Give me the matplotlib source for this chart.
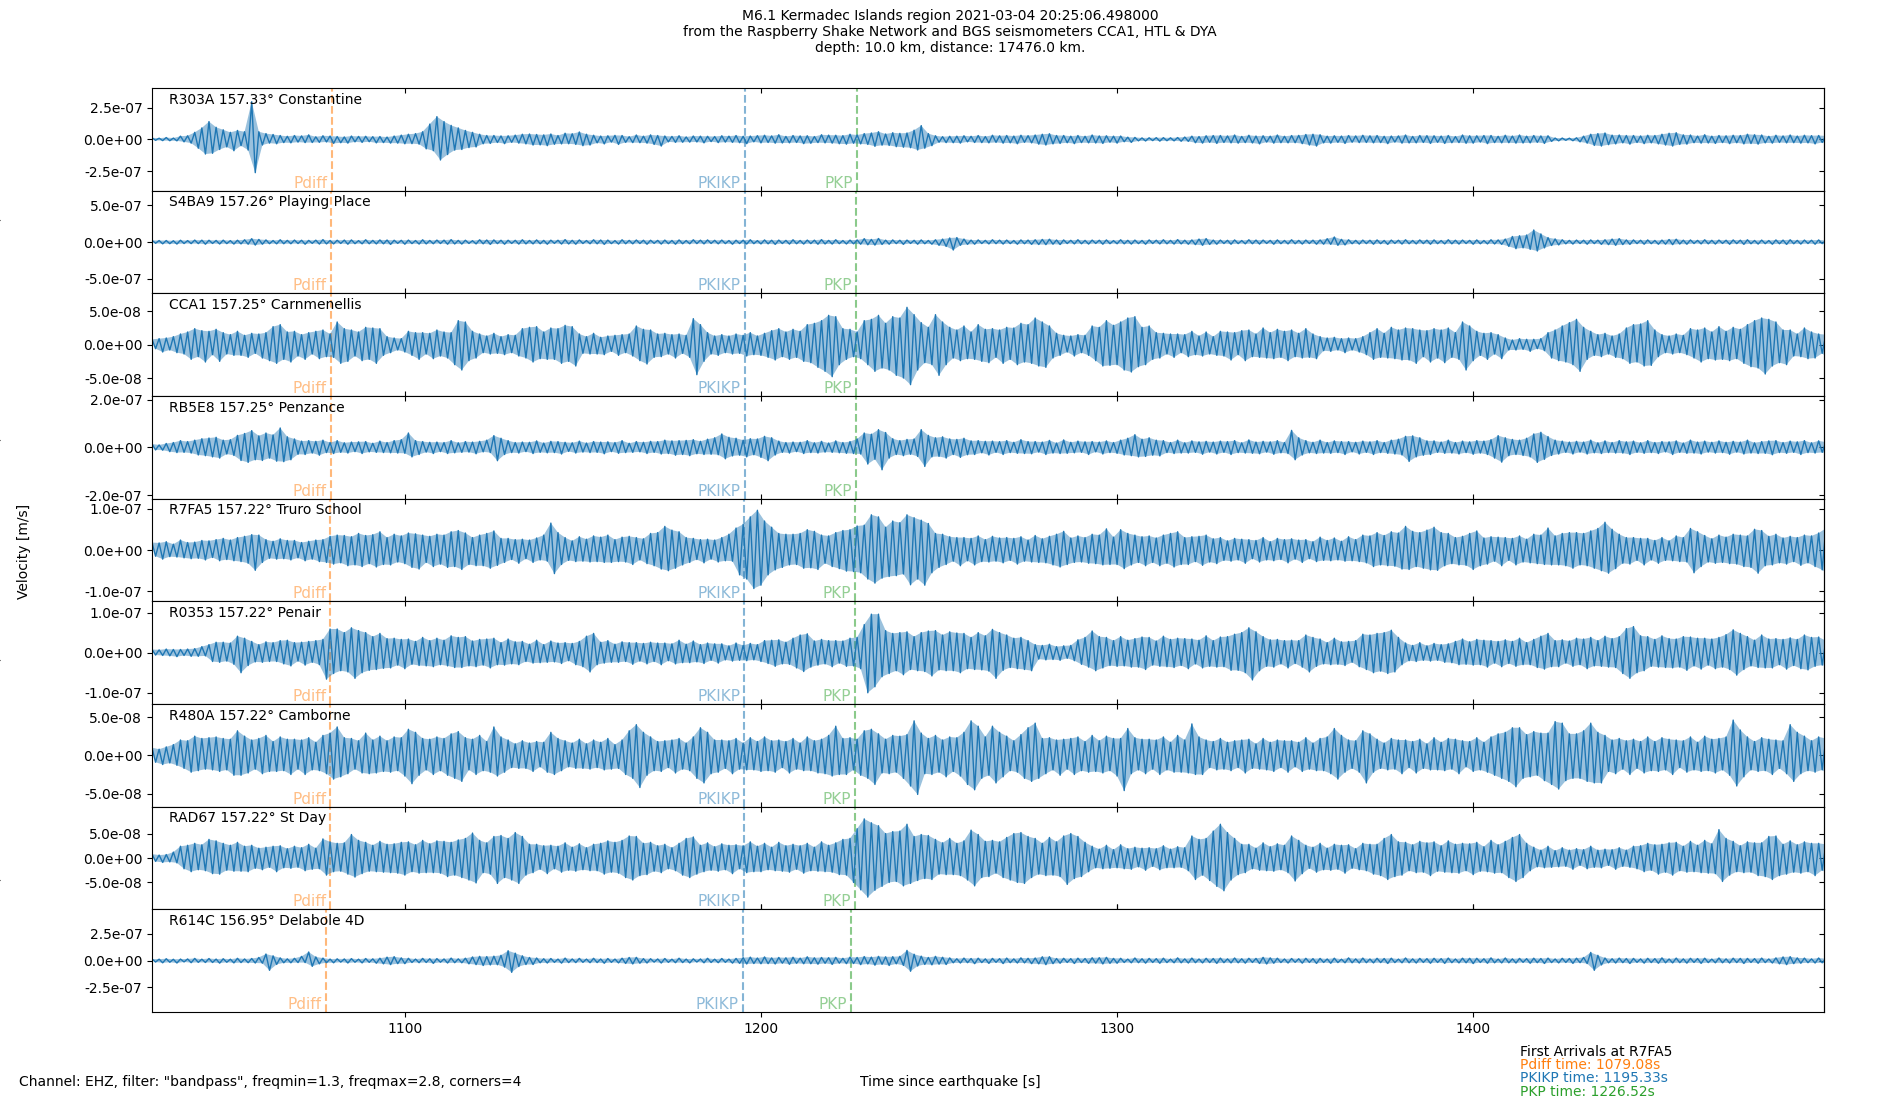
import numpy as np
import matplotlib
matplotlib.use("Agg")
import matplotlib.pyplot as plt

plt.rcParams["font.size"] = 10

stations = ["R303A", "S4BA9", "CCA1", "RB5E8", "R7FA5", "R0353", "R480A", "RAD67", "R614C"]
distances = [157.33, 157.26, 157.25, 157.25, 157.22, 157.22, 157.22, 157.22, 156.95]
places = ["Constantine", "Playing Place", "Carnmenellis", "Penzance", "Truro School",
          "Penair", "Camborne", "St Day", "Delabole 4D"]

# arrival times (s) at each station
pdiff_t = [1079.57, 1079.26, 1079.21, 1079.21, 1079.08, 1079.08, 1079.08, 1079.08, 1077.88]
pkikp_t = [1195.54, 1195.40, 1195.39, 1195.39, 1195.33, 1195.33, 1195.33, 1195.33, 1194.82]
pkp_t = [1227.00, 1226.70, 1226.65, 1226.65, 1226.52, 1226.52, 1226.52, 1226.52, 1225.33]

# y range (m/s) and tick step of each panel
y_lims = [4.05e-7, 7.0e-7, 7.7e-8, 2.15e-7, 1.24e-7, 1.28e-7, 6.7e-8, 1.05e-7, 4.8e-7]
y_ticks = [2.5e-7, 5e-7, 5e-8, 2e-7, 1e-7, 1e-7, 5e-8, 5e-8, 2.5e-7]

# filtered velocity peaks in nm/s, one per second starting at 1029 s
# (each row is 20 s)
T0 = 1029.0
DT = 1.0

r303a = [
    12, -8, 9, -10, 14, -11, 10, -12, 25, -20, 28, -30, 55, -70, 90, -116, 140, -110, 95, -80,
    75, -60, 55, -90, 70, -50, 60, -85, 297, -263, 60, -45, 45, -30, 38, -35, 30, -26, 24, -28,
    30, -22, 27, -26, 35, -25, 20, -24, 28, -21, 26, -32, 22, -27, 19, -30, 26, -20, 23, -24,
    24, -19, 21, -28, 22, -26, 18, -30, 26, -30, 33, -35, 40, -34, 45, -38, 60, -75, 120, -90,
    179, -163, 140, -120, 110, -85, 90, -80, 70, -65, 55, -60, 40, -35, 30, -32, 30, -25, 27, -34,
    28, -24, 33, -30, 40, -36, 42, -45, 38, -44, 35, -50, 42, -39, 30, -36, 48, -35, 44, -40,
    58, -50, 40, -45, 32, -28, 26, -36, 28, -22, 31, -40, 30, -24, 21, -26, 34, -27, 25, -30,
    35, -40, 30, -53, 26, -20, 23, -24, 28, -23, 19, -22, 26, -21, 25, -28, 24, -18, 22, -26,
    28, -22, 25, -24, 30, -27, 24, -34, 26, -20, 29, -28, 32, -25, 27, -30, 36, -29, 23, -28,
    30, -25, 27, -34, 28, -31, 22, -26, 36, -28, 33, -30, 32, -35, 29, -38, 40, -31, 34, -36,
    45, -40, 50, -55, 60, -46, 42, -48, 52, -58, 47, -62, 50, -66, 72, -84, 108, -70, 45, -50,
    28, -23, 21, -26, 24, -27, 25, -30, 28, -20, 24, -25, 30, -26, 22, -28, 32, -24, 28, -30,
    30, -28, 26, -35, 32, -24, 29, -28, 34, -38, 40, -45, 44, -36, 30, -32, 30, -27, 25, -34,
    30, -26, 24, -28, 34, -29, 27, -32, 28, -23, 25, -30, 26, -19, 17, -24, 15, -12, 11, -13,
    12, -10, 13, -14, 13, -11, 12, -12, 14, -15, 18, -16, 25, -27, 22, -30, 28, -24, 30, -32,
    30, -25, 27, -28, 34, -30, 23, -26, 32, -29, 26, -36, 28, -22, 25, -30, 34, -27, 24, -28,
    30, -27, 31, -34, 38, -45, 40, -53, 36, -28, 25, -30, 28, -24, 26, -32, 30, -23, 27, -26,
    32, -25, 28, -28, 30, -26, 24, -34, 26, -22, 27, -30, 34, -29, 23, -28, 30, -25, 29, -32,
    28, -24, 26, -32, 30, -27, 22, -26, 34, -31, 28, -30, 28, -22, 30, -34, 30, -26, 24, -28,
    32, -27, 26, -30, 34, -29, 25, -28, 30, -24, 27, -32, 28, -16, 10, -12, 10, -8, 9, -11,
    12, -20, 25, -30, 40, -48, 45, -53, 50, -42, 33, -36, 34, -28, 30, -38, 30, -25, 27, -34,
    32, -28, 30, -36, 40, -45, 48, -53, 52, -40, 35, -38, 34, -27, 26, -30, 36, -29, 25, -32,
    30, -26, 28, -34, 32, -27, 30, -36, 40, -33, 36, -38, 34, -28, 24, -30, 32, -25, 27, -28,
    34, -27, 26, -30, 32, -28, 29, -36, 30, -25, 27, -34,
]

s4ba9 = [
    22, -18, 20, -25, 20, -23, 17, -28, 24, -21, 19, -22, 26, -22, 25, -30, 24, -20, 21, -27,
    25, -22, 19, -28, 24, -26, 30, -30, 45, -42, 35, -30, 28, -23, 20, -25, 30, -24, 22, -24,
    26, -21, 24, -30, 22, -19, 25, -28, 32, -26, 21, -26, 24, -20, 26, -30, 28, -23, 19, -25,
    30, -24, 22, -26, 28, -25, 27, -32, 24, -19, 23, -30, 26, -22, 20, -28, 30, -26, 21, -24,
    26, -21, 25, -30, 32, -27, 22, -28, 24, -20, 18, -26, 30, -25, 27, -32, 28, -22, 24, -30,
    24, -20, 23, -28, 30, -26, 21, -26, 28, -24, 22, -30, 25, -19, 24, -28, 32, -27, 23, -30,
    28, -21, 20, -24, 30, -25, 27, -32, 26, -22, 19, -28, 30, -24, 22, -25, 27, -21, 24, -30,
    24, -19, 22, -28, 26, -23, 21, -30, 28, -24, 20, -24, 30, -22, 25, -26, 28, -20, 23, -25,
    26, -22, 20, -30, 24, -21, 25, -28, 30, -23, 19, -26, 28, -25, 24, -32, 26, -21, 22, -28,
    30, -24, 21, -28, 26, -22, 25, -30, 32, -27, 22, -28, 30, -23, 20, -27, 26, -25, 28, -30,
    45, -38, 35, -42, 48, -33, 25, -30, 28, -22, 24, -32, 26, -20, 23, -30, 28, -24, 21, -30,
    30, -45, 40, -60, 55, -109, 60, -45, 40, -32, 26, -30, 28, -21, 22, -26, 30, -23, 25, -28,
    26, -22, 20, -30, 28, -24, 26, -32, 30, -34, 35, -36, 38, -30, 27, -34, 28, -21, 23, -26,
    30, -24, 22, -28, 26, -20, 24, -30, 28, -23, 19, -24, 30, -25, 23, -28, 26, -22, 21, -30,
    28, -21, 24, -26, 30, -25, 22, -28, 32, -26, 24, -30, 28, -36, 40, -45, 46, -33, 26, -30,
    26, -21, 23, -30, 28, -22, 20, -25, 30, -24, 26, -28, 26, -20, 22, -30, 28, -23, 21, -26,
    30, -24, 22, -28, 26, -21, 25, -30, 28, -30, 45, -32, 68, -45, 36, -40, 30, -24, 22, -28,
    26, -22, 24, -30, 28, -23, 21, -32, 26, -20, 24, -28, 30, -24, 21, -26, 28, -22, 25, -30,
    28, -23, 20, -26, 30, -25, 24, -28, 26, -21, 22, -30, 28, -24, 20, -26, 30, -27, 28, -32,
    40, -60, 75, -91, 85, -80, 95, -100, 164, -123, 110, -80, 60, -48, 42, -40, 30, -25, 22, -28,
    26, -21, 24, -30, 28, -22, 25, -32, 30, -36, 40, -45, 46, -35, 28, -32, 28, -22, 24, -30,
    28, -23, 21, -30, 26, -30, 34, -36, 38, -28, 25, -30, 28, -21, 22, -26, 30, -25, 23, -28,
    26, -20, 24, -30, 28, -22, 25, -32, 30, -24, 21, -28, 26, -23, 20, -30, 28, -24, 26, -32,
    30, -24, 22, -28, 26, -21, 24, -30, 28, -22, 20, -26,
]

cca1 = [
    8, -6, 9, -11, 10, -8, 12, -12, 16, -14, 19, -22, 24, -18, 21, -26, 20, -15, 23, -25,
    18, -14, 15, -16, 20, -16, 14, -19, 17, -13, 16, -20, 18, -24, 27, -28, 30, -22, 19, -26,
    20, -17, 15, -22, 18, -14, 20, -21, 22, -18, 16, -19, 34, -28, 24, -25, 22, -17, 19, -24,
    26, -22, 25, -28, 24, -16, 12, -12, 10, -8, 9, -11, 20, -16, 18, -22, 18, -14, 17, -21,
    22, -17, 19, -20, 18, -30, 36, -38, 34, -24, 20, -20, 16, -12, 13, -14, 17, -13, 12, -15,
    15, -12, 14, -17, 24, -20, 26, -26, 27, -21, 19, -22, 25, -22, 24, -28, 29, -25, 27, -32,
    16, -13, 12, -14, 17, -14, 11, -15, 13, -10, 14, -16, 15, -12, 16, -17, 28, -24, 23, -29,
    22, -19, 16, -18, 17, -14, 15, -20, 16, -13, 14, -19, 39, -45, 30, -25, 18, -14, 13, -16,
    15, -12, 13, -14, 16, -13, 14, -17, 18, -15, 13, -16, 17, -19, 21, -23, 24, -18, 19, -22,
    23, -19, 20, -25, 30, -27, 32, -34, 36, -40, 44, -48, 42, -30, 24, -22, 23, -18, 19, -21,
    36, -30, 38, -40, 44, -35, 32, -38, 42, -46, 40, -50, 56, -60, 45, -38, 33, -27, 26, -30,
    45, -46, 34, -30, 26, -20, 22, -24, 28, -21, 19, -22, 30, -25, 23, -27, 24, -19, 22, -28,
    26, -22, 25, -30, 32, -26, 30, -28, 40, -32, 34, -34, 28, -20, 17, -16, 14, -11, 13, -17,
    15, -12, 14, -16, 28, -24, 26, -32, 36, -31, 29, -30, 34, -38, 40, -41, 42, -33, 26, -30,
    28, -22, 18, -20, 17, -14, 16, -19, 16, -12, 15, -18, 20, -15, 13, -17, 19, -14, 12, -16,
    20, -17, 19, -23, 18, -15, 21, -24, 22, -18, 16, -19, 25, -20, 18, -21, 23, -19, 20, -24,
    22, -18, 17, -20, 24, -19, 16, -21, 12, -9, 10, -10, 11, -8, 9, -12, 10, -8, 9, -11,
    12, -15, 18, -22, 24, -19, 17, -20, 26, -21, 22, -23, 25, -23, 24, -28, 22, -18, 21, -26,
    24, -20, 22, -27, 25, -19, 18, -22, 34, -38, 28, -24, 20, -16, 17, -22, 18, -14, 15, -21,
    10, -8, 7, -8, 9, -7, 8, -10, 8, -6, 9, -9, 18, -20, 22, -24, 28, -26, 33, -30,
    38, -40, 26, -22, 20, -16, 15, -18, 17, -14, 13, -19, 16, -21, 25, -28, 30, -26, 31, -32,
    36, -31, 22, -18, 15, -12, 13, -14, 16, -12, 14, -15, 24, -20, 22, -26, 25, -21, 19, -23,
    27, -22, 20, -24, 26, -21, 23, -28, 30, -33, 36, -35, 40, -44, 38, -32, 34, -27, 22, -30,
    22, -17, 16, -18, 25, -21, 19, -20, 16, -13, 15, -22,
]

rb5e8 = [
    14, -11, 10, -12, 16, -18, 20, -22, 28, -21, 24, -24, 30, -32, 36, -35, 39, -40, 42, -45,
    30, -28, 32, -34, 50, -55, 58, -63, 70, -52, 48, -55, 60, -45, 52, -58, 81, -60, 44, -52,
    35, -29, 26, -30, 28, -24, 25, -33, 30, -22, 20, -26, 28, -21, 19, -24, 22, -18, 23, -26,
    24, -19, 17, -21, 26, -22, 20, -23, 28, -24, 32, -25, 60, -40, 28, -30, 24, -20, 21, -26,
    22, -18, 20, -26, 28, -23, 19, -21, 24, -20, 22, -27, 25, -19, 30, -22, 49, -56, 38, -30,
    28, -22, 20, -24, 22, -18, 21, -26, 27, -21, 18, -23, 25, -22, 24, -28, 21, -17, 19, -24,
    26, -20, 18, -22, 24, -21, 22, -27, 23, -18, 20, -25, 28, -22, 17, -21, 24, -19, 21, -26,
    25, -21, 24, -28, 30, -26, 27, -33, 28, -30, 29, -35, 32, -27, 25, -30, 34, -29, 40, -31,
    56, -48, 42, -36, 38, -33, 30, -40, 36, -31, 35, -42, 46, -56, 40, -32, 26, -21, 20, -24,
    22, -18, 21, -26, 28, -22, 19, -24, 25, -20, 18, -21, 27, -23, 20, -25, 24, -26, 35, -28,
    60, -70, 55, -50, 74, -94, 62, -45, 36, -30, 28, -35, 33, -29, 35, -38, 74, -80, 50, -40,
    40, -38, 44, -45, 35, -30, 33, -42, 38, -31, 27, -30, 28, -23, 25, -32, 26, -21, 24, -30,
    28, -22, 21, -25, 32, -26, 24, -27, 24, -20, 22, -30, 29, -24, 18, -26, 31, -25, 21, -23,
    26, -21, 23, -30, 24, -19, 22, -28, 27, -22, 20, -25, 30, -32, 38, -35, 53, -40, 34, -38,
    40, -33, 30, -36, 28, -22, 20, -26, 30, -24, 19, -24, 27, -21, 23, -29, 25, -20, 22, -28,
    26, -21, 24, -30, 28, -22, 19, -24, 31, -25, 22, -27, 25, -20, 23, -29, 28, -23, 20, -26,
    71, -52, 40, -32, 28, -23, 21, -26, 30, -24, 20, -25, 27, -22, 24, -30, 24, -19, 21, -28,
    26, -21, 23, -30, 28, -22, 20, -25, 30, -28, 34, -32, 46, -59, 48, -40, 40, -33, 27, -30,
    27, -21, 22, -25, 30, -24, 20, -28, 26, -22, 23, -29, 28, -24, 26, -30, 32, -45, 49, -62,
    40, -35, 33, -30, 30, -34, 38, -40, 56, -63, 63, -50, 45, -34, 30, -28, 26, -21, 22, -28,
    25, -20, 22, -28, 30, -23, 19, -26, 27, -22, 20, -24, 28, -24, 23, -30, 26, -21, 19, -25,
    28, -22, 20, -26, 24, -19, 23, -30, 27, -21, 18, -25, 30, -24, 22, -28, 26, -20, 21, -24,
    27, -22, 21, -29, 25, -20, 22, -28, 30, -24, 19, -26, 24, -25, 27, -31, 28, -22, 20, -25,
    26, -21, 23, -30, 28, -22, 19, -24, 27, -21, 22, -29,
]

r7fa5 = [
    18, -15, 17, -22, 20, -16, 14, -17, 24, -19, 18, -21, 19, -20, 23, -24, 22, -18, 25, -26,
    28, -23, 24, -26, 30, -28, 33, -32, 37, -49, 36, -30, 25, -20, 21, -22, 27, -21, 23, -24,
    23, -19, 18, -26, 21, -22, 24, -28, 25, -30, 33, -34, 36, -31, 35, -38, 32, -36, 40, -40,
    35, -33, 37, -41, 44, -35, 30, -36, 38, -29, 34, -33, 41, -42, 39, -46, 36, -30, 33, -40,
    38, -34, 36, -42, 44, -40, 47, -47, 41, -35, 30, -38, 36, -38, 40, -44, 46, -37, 28, -30,
    28, -23, 25, -32, 26, -21, 24, -30, 29, -24, 36, -27, 65, -57, 42, -35, 30, -25, 22, -28,
    32, -27, 26, -29, 34, -28, 31, -30, 36, -30, 25, -28, 31, -29, 33, -35, 30, -24, 27, -33,
    40, -38, 42, -46, 57, -50, 48, -44, 44, -36, 30, -30, 28, -23, 25, -31, 26, -22, 24, -29,
    30, -26, 38, -27, 53, -60, 62, -70, 80, -93, 96, -85, 70, -60, 55, -48, 40, -42, 38, -36,
    38, -35, 40, -44, 49, -43, 45, -47, 36, -32, 34, -40, 42, -45, 47, -51, 49, -52, 58, -55,
    60, -70, 85, -80, 80, -68, 55, -64, 70, -62, 66, -58, 85, -84, 78, -70, 72, -85, 64, -55,
    40, -42, 38, -35, 32, -27, 30, -38, 30, -26, 28, -36, 34, -28, 25, -29, 33, -27, 29, -31,
    30, -25, 28, -34, 32, -27, 24, -29, 35, -30, 27, -31, 33, -36, 38, -41, 45, -35, 29, -30,
    34, -29, 30, -32, 38, -33, 36, -36, 51, -35, 31, -35, 49, -45, 40, -36, 36, -30, 32, -38,
    34, -30, 29, -38, 36, -32, 40, -41, 44, -35, 30, -35, 32, -28, 33, -37, 36, -29, 27, -33,
    30, -25, 22, -27, 28, -24, 26, -32, 25, -21, 23, -29, 30, -24, 20, -26, 28, -23, 25, -31,
    27, -22, 24, -30, 25, -21, 20, -28, 31, -25, 23, -26, 29, -24, 21, -27, 32, -26, 25, -28,
    36, -31, 34, -40, 42, -36, 35, -38, 44, -39, 41, -46, 57, -47, 45, -40, 42, -44, 48, -48,
    55, -49, 42, -38, 40, -33, 30, -36, 33, -37, 40, -47, 46, -38, 29, -34, 32, -27, 31, -38,
    30, -25, 28, -36, 34, -29, 26, -31, 38, -33, 36, -35, 53, -36, 34, -36, 40, -38, 42, -44,
    42, -36, 40, -38, 46, -44, 52, -50, 67, -56, 50, -45, 38, -32, 30, -34, 30, -25, 28, -36,
    28, -24, 23, -32, 30, -25, 22, -26, 34, -28, 30, -29, 52, -55, 44, -40, 35, -29, 27, -32,
    36, -30, 31, -33, 38, -34, 36, -40, 34, -42, 50, -56, 47, -38, 33, -36, 38, -31, 29, -34,
    33, -28, 30, -37, 36, -31, 34, -40, 41, -48, 52, -60,
]

r0353 = [
    8, -6, 7, -7, 9, -8, 8, -10, 8, -7, 9, -9, 10, -9, 15, -8, 20, -22, 26, -24,
    26, -21, 24, -29, 41, -50, 36, -32, 28, -23, 20, -24, 27, -22, 25, -22, 30, -28, 31, -33,
    25, -21, 26, -31, 28, -24, 30, -30, 33, -66, 59, -52, 59, -45, 50, -48, 62, -64, 55, -50,
    50, -44, 40, -42, 48, -39, 35, -38, 36, -31, 33, -40, 34, -29, 28, -32, 38, -33, 30, -35,
    36, -30, 31, -33, 42, -37, 38, -37, 40, -33, 29, -35, 33, -31, 34, -38, 36, -30, 25, -31,
    34, -28, 27, -30, 28, -22, 21, -26, 31, -25, 20, -24, 29, -23, 24, -27, 25, -20, 23, -30,
    28, -35, 41, -48, 48, -30, 26, -26, 30, -24, 21, -24, 27, -22, 25, -29, 25, -21, 23, -28,
    26, -22, 24, -30, 24, -20, 22, -28, 31, -25, 21, -25, 29, -23, 20, -27, 24, -19, 22, -26,
    22, -18, 17, -21, 24, -19, 18, -20, 23, -18, 20, -22, 30, -27, 31, -34, 32, -28, 26, -29,
    36, -38, 44, -47, 47, -36, 29, -31, 33, -28, 30, -35, 30, -26, 29, -34, 36, -33, 38, -40,
    70, -100, 96, -85, 96, -60, 55, -52, 48, -45, 50, -55, 52, -42, 40, -45, 50, -47, 54, -58,
    55, -43, 44, -45, 52, -45, 49, -50, 48, -40, 38, -42, 50, -43, 42, -46, 58, -64, 50, -44,
    44, -37, 36, -40, 38, -42, 30, -45, 20, -16, 18, -18, 21, -17, 15, -19, 17, -14, 18, -20,
    32, -29, 38, -36, 54, -45, 40, -38, 38, -32, 30, -34, 40, -33, 31, -36, 35, -36, 39, -42,
    38, -31, 29, -34, 41, -35, 33, -37, 36, -32, 35, -40, 34, -28, 31, -38, 42, -34, 30, -36,
    39, -35, 40, -44, 46, -44, 50, -50, 62, -68, 52, -45, 40, -34, 32, -36, 33, -28, 30, -38,
    31, -27, 30, -36, 44, -48, 38, -34, 34, -28, 25, -30, 36, -29, 27, -32, 28, -24, 30, -35,
    46, -42, 44, -50, 48, -46, 50, -52, 56, -48, 38, -30, 24, -20, 18, -22, 25, -19, 17, -21,
    23, -19, 20, -24, 22, -25, 28, -30, 34, -29, 27, -31, 33, -30, 31, -36, 30, -26, 28, -35,
    32, -27, 28, -34, 36, -30, 25, -30, 33, -37, 41, -41, 48, -35, 30, -35, 32, -26, 29, -34,
    36, -30, 34, -40, 38, -33, 30, -34, 41, -36, 35, -37, 40, -52, 60, -64, 65, -50, 42, -45,
    40, -34, 33, -36, 42, -37, 35, -38, 34, -36, 40, -44, 39, -33, 36, -41, 36, -31, 34, -40,
    38, -36, 45, -42, 57, -56, 48, -42, 40, -33, 31, -37, 44, -38, 34, -38, 35, -30, 33, -41,
    37, -32, 33, -40, 44, -43, 38, -34, 39, -31, 30, -36,
]

r480a = [
    10, -9, 8, -12, 11, -10, 14, -13, 20, -17, 19, -22, 25, -20, 22, -18, 23, -19, 24, -21,
    22, -19, 21, -26, 32, -26, 25, -23, 20, -18, 22, -24, 26, -21, 18, -21, 24, -20, 21, -25,
    21, -18, 20, -25, 23, -19, 17, -20, 26, -24, 29, -31, 37, -28, 23, -24, 22, -18, 19, -23,
    29, -24, 20, -23, 25, -21, 19, -22, 24, -20, 23, -27, 34, -37, 30, -26, 22, -19, 21, -25,
    24, -20, 22, -26, 28, -30, 31, -34, 23, -19, 21, -25, 26, -20, 18, -22, 37, -27, 24, -22,
    20, -16, 15, -17, 19, -17, 16, -21, 18, -15, 17, -22, 30, -25, 22, -20, 19, -15, 16, -17,
    21, -17, 15, -18, 20, -16, 17, -19, 22, -18, 14, -17, 20, -25, 32, -30, 40, -42, 30, -26,
    24, -20, 18, -21, 19, -16, 20, -23, 22, -18, 16, -20, 24, -30, 36, -36, 30, -24, 20, -22,
    20, -17, 19, -24, 22, -18, 16, -19, 23, -19, 18, -21, 24, -20, 19, -22, 20, -16, 18, -23,
    22, -18, 16, -20, 24, -20, 19, -23, 21, -24, 26, -27, 38, -25, 22, -25, 23, -19, 21, -26,
    32, -30, 34, -38, 28, -23, 21, -24, 26, -22, 25, -30, 27, -40, 45, -51, 29, -24, 22, -25,
    26, -22, 20, -28, 24, -21, 23, -27, 30, -38, 45, -45, 38, -30, 24, -26, 38, -36, 30, -28,
    25, -20, 19, -22, 27, -30, 36, -34, 42, -30, 22, -24, 23, -19, 20, -26, 21, -18, 22, -25,
    24, -20, 18, -22, 26, -21, 19, -23, 25, -20, 22, -27, 22, -46, 35, -24, 23, -19, 21, -24,
    21, -18, 20, -25, 24, -19, 17, -22, 26, -22, 20, -23, 41, -25, 24, -25, 20, -16, 18, -19,
    22, -18, 17, -20, 19, -16, 20, -23, 21, -17, 15, -18, 22, -19, 17, -21, 20, -16, 19, -22,
    19, -15, 17, -21, 23, -18, 16, -20, 22, -20, 24, -24, 35, -31, 26, -22, 20, -17, 19, -22,
    32, -36, 28, -22, 21, -17, 16, -19, 22, -18, 20, -24, 20, -16, 18, -23, 21, -17, 15, -19,
    23, -19, 17, -20, 22, -18, 21, -24, 19, -15, 18, -21, 23, -19, 17, -22, 24, -26, 28, -30,
    30, -34, 36, -41, 36, -30, 27, -28, 31, -26, 29, -33, 29, -38, 44, -44, 42, -33, 28, -30,
    28, -30, 32, -34, 42, -36, 30, -36, 26, -21, 20, -24, 22, -18, 19, -25, 21, -17, 18, -23,
    24, -20, 18, -21, 23, -19, 21, -25, 20, -16, 19, -22, 24, -19, 17, -21, 25, -20, 21, -23,
    22, -19, 24, -26, 46, -40, 33, -28, 24, -19, 18, -21, 23, -20, 21, -25, 20, -17, 19, -24,
    40, -34, 30, -24, 25, -20, 19, -22, 24, -19, 22, -26,
]

rad67 = [
    8, -7, 6, -9, 7, -8, 12, -10, 24, -22, 26, -28, 30, -24, 27, -26, 38, -32, 35, -33,
    30, -25, 26, -27, 32, -27, 24, -28, 26, -21, 20, -24, 22, -19, 24, -28, 25, -20, 19, -21,
    24, -19, 21, -26, 28, -23, 20, -22, 39, -35, 33, -28, 30, -27, 31, -33, 48, -39, 36, -32,
    32, -27, 26, -28, 34, -29, 28, -30, 29, -31, 32, -35, 33, -28, 27, -31, 36, -30, 29, -30,
    35, -31, 34, -38, 32, -35, 37, -40, 40, -45, 51, -51, 36, -30, 31, -33, 44, -52, 46, -40,
    40, -45, 52, -52, 44, -35, 28, -30, 28, -23, 25, -32, 26, -22, 24, -29, 31, -25, 22, -27,
    29, -24, 21, -26, 28, -26, 30, -33, 35, -29, 32, -31, 36, -40, 45, -45, 44, -36, 30, -34,
    32, -27, 25, -30, 28, -22, 21, -26, 30, -35, 40, -40, 43, -33, 26, -28, 31, -25, 23, -27,
    29, -24, 26, -32, 27, -22, 25, -30, 33, -28, 24, -28, 30, -24, 22, -26, 32, -27, 25, -29,
    28, -23, 25, -31, 30, -26, 22, -27, 33, -28, 26, -29, 31, -34, 38, -35, 40, -50, 60, -65,
    80, -80, 72, -66, 66, -58, 50, -50, 54, -48, 55, -57, 69, -52, 44, -46, 48, -42, 46, -44,
    38, -33, 31, -34, 40, -34, 30, -36, 35, -45, 57, -57, 48, -40, 34, -38, 36, -31, 33, -40,
    42, -45, 50, -50, 52, -52, 44, -40, 40, -33, 30, -36, 42, -35, 33, -38, 45, -54, 50, -42,
    44, -38, 32, -28, 24, -20, 18, -22, 26, -21, 17, -20, 27, -22, 19, -23, 22, -18, 20, -25,
    21, -17, 19, -24, 25, -20, 18, -20, 23, -19, 21, -26, 45, -44, 38, -35, 40, -46, 55, -58,
    69, -67, 52, -45, 40, -34, 28, -30, 28, -22, 20, -25, 31, -26, 23, -27, 29, -24, 26, -30,
    45, -47, 36, -32, 26, -21, 22, -29, 30, -24, 20, -25, 28, -23, 26, -31, 27, -21, 19, -24,
    30, -26, 28, -33, 28, -36, 40, -44, 48, -38, 33, -35, 32, -26, 27, -30, 34, -29, 31, -36,
    33, -27, 25, -29, 35, -30, 28, -31, 30, -26, 29, -34, 32, -27, 23, -28, 36, -31, 27, -30,
    34, -40, 42, -48, 48, -40, 30, -26, 22, -18, 16, -20, 24, -19, 15, -18, 21, -17, 16, -23,
    19, -15, 17, -22, 24, -19, 16, -20, 18, -15, 17, -23, 21, -17, 16, -19, 24, -22, 25, -28,
    30, -25, 27, -33, 28, -29, 31, -35, 32, -26, 24, -29, 34, -28, 26, -30, 36, -31, 29, -32,
    58, -48, 40, -35, 34, -28, 25, -30, 33, -29, 31, -36, 31, -38, 44, -44, 45, -36, 28, -33,
    35, -29, 27, -31, 33, -28, 30, -36, 30, -25, 28, -34,
]

r614c = [
    16, -13, 14, -20, 18, -15, 13, -22, 15, -12, 16, -19, 21, -16, 14, -17, 20, -17, 15, -23,
    18, -15, 14, -21, 22, -18, 16, -19, 20, -22, 30, -24, 62, -90, 45, -35, 26, -20, 17, -20,
    22, -18, 40, -18, 81, -53, 35, -30, 24, -19, 15, -20, 17, -14, 16, -22, 19, -15, 14, -21,
    20, -16, 17, -24, 23, -30, 33, -37, 37, -28, 26, -28, 22, -17, 15, -19, 21, -17, 18, -25,
    19, -15, 16, -22, 24, -19, 17, -20, 23, -30, 35, -37, 40, -45, 38, -40, 42, -38, 50, -60,
    93, -109, 70, -55, 45, -36, 30, -36, 25, -20, 18, -22, 20, -16, 15, -23, 24, -18, 16, -18,
    21, -16, 15, -19, 22, -18, 16, -24, 20, -16, 15, -21, 23, -26, 30, -31, 31, -24, 19, -22,
    18, -14, 16, -22, 20, -16, 14, -19, 23, -18, 15, -21, 17, -13, 16, -20, 22, -17, 14, -19,
    20, -16, 15, -23, 21, -25, 28, -31, 33, -27, 25, -29, 35, -28, 26, -31, 30, -24, 27, -34,
    32, -25, 24, -29, 36, -29, 27, -33, 30, -25, 28, -35, 31, -24, 22, -28, 33, -27, 30, -37,
    38, -31, 33, -42, 40, -34, 36, -45, 37, -30, 40, -44, 96, -99, 60, -50, 42, -35, 30, -39,
    40, -33, 32, -36, 26, -20, 18, -22, 24, -19, 20, -28, 23, -18, 17, -25, 21, -16, 19, -27,
    24, -19, 17, -22, 26, -21, 22, -28, 25, -30, 36, -37, 37, -28, 20, -24, 22, -17, 19, -26,
    23, -18, 20, -25, 27, -24, 28, -31, 31, -25, 21, -24, 22, -17, 15, -20, 25, -19, 18, -23,
    21, -17, 19, -24, 23, -18, 15, -20, 26, -20, 17, -22, 24, -19, 16, -21, 22, -18, 20, -25,
    24, -19, 17, -21, 25, -20, 18, -23, 22, -17, 21, -26, 31, -31, 26, -24, 23, -18, 16, -22,
    20, -16, 18, -23, 22, -17, 19, -25, 21, -17, 16, -24, 23, -18, 14, -20, 26, -20, 17, -22,
    24, -19, 16, -21, 22, -18, 20, -26, 23, -18, 15, -20, 25, -20, 17, -22, 21, -17, 19, -24,
    22, -17, 19, -25, 24, -19, 16, -21, 23, -20, 22, -27, 22, -17, 18, -24, 26, -20, 15, -21,
    25, -20, 17, -22, 21, -16, 19, -24, 23, -19, 20, -26, 24, -18, 16, -21, 22, -17, 20, -25,
    23, -19, 30, -27, 77, -90, 50, -40, 25, -20, 18, -22, 24, -19, 20, -26, 21, -16, 17, -23,
    22, -18, 19, -24, 26, -20, 16, -21, 24, -19, 17, -23, 22, -17, 20, -25, 23, -18, 15, -20,
    25, -20, 17, -22, 23, -18, 21, -26, 21, -17, 19, -24, 24, -18, 16, -22, 26, -30, 35, -37,
    37, -28, 26, -24, 24, -19, 17, -22, 25, -20, 18, -23,
]

traces = [r303a, s4ba9, cca1, rb5e8, r7fa5, r0353, r480a, rad67, r614c]

fig, axes = plt.subplots(9, 1, figsize=(19, 11), dpi=100, sharex=True)
fig.subplots_adjust(left=0.08, right=0.96, top=0.92, bottom=0.08, hspace=0)

# faint helper axes behind everything (only its tick stubs show at the left edge)
bg = fig.add_axes([0, 0, 1, 1], frameon=False, zorder=-1)
bg.set_yticks([0.2, 0.4, 0.6, 0.8])
bg.set_xticks([])
bg.tick_params(labelleft=False)

for i, ax in enumerate(axes):
    vals = np.array(traces[i], dtype=float) * 1e-9
    t = T0 + DT * np.arange(len(vals))

    # real wiggles are denser than the pixels: shade the band between the
    # upper and lower peaks lightly, then draw the peak line on top
    up = vals > 0
    band_x = np.concatenate([t[up], t[~up][::-1]])
    band_y = np.concatenate([vals[up], vals[~up][::-1]])
    ax.fill(band_x, band_y, color="C0", alpha=0.45, linewidth=0, zorder=2)
    ax.plot(t, vals, color="C0", linewidth=1.0, zorder=2)

    lim = y_lims[i]
    tk = y_ticks[i]
    ax.set_ylim(-lim, lim)
    ax.set_yticks([-tk, 0, tk])
    ax.set_yticklabels([f"{v:.1e}" for v in (-tk, 0.0, tk)])
    sec = ax.secondary_yaxis("right")
    sec.set_yticks([-tk, 0, tk])
    sec.tick_params(axis="y", direction="in", labelright=False)

    ax.text(0.01, 0.955, f"{stations[i]} {distances[i]:.2f}° {places[i]}",
            transform=ax.transAxes, ha="left", va="top")

    for tt, name, col in [(pdiff_t[i], "Pdiff", "C1"),
                          (pkikp_t[i], "PKIKP", "C0"),
                          (pkp_t[i], "PKP", "C2")]:
        ax.axvline(tt, color=col, linestyle="--", linewidth=1.5, alpha=0.55, zorder=1)
        ax.text(tt - 1.2, 0.0, name, transform=ax.get_xaxis_transform(),
                ha="right", va="bottom", color=col, alpha=0.5, fontsize=11)

    if i < len(axes) - 1:
        ax.tick_params(axis="x", direction="in", top=True, bottom=True, labelbottom=False)
    else:
        ax.tick_params(axis="x", direction="out", top=True, bottom=True)

axes[-1].set_xlim(1029, 1498.5)
axes[-1].set_xticks([1100, 1200, 1300, 1400])

fig.suptitle("M6.1 Kermadec Islands region 2021-03-04 20:25:06.498000\n"
             "from the Raspberry Shake Network and BGS seismometers CCA1, HTL & DYA\n"
             "depth: 10.0 km, distance: 17476.0 km.", y=0.992, fontsize=10)

fig.text(0.009, 0.499, "Velocity [m/s]", rotation=90, ha="left", va="center")
fig.text(0.5, 0.0166, "Time since earthquake [s]", ha="center", va="center")
fig.text(0.0102, 0.0166, 'Channel: EHZ, filter: "bandpass", freqmin=1.3, freqmax=2.8, corners=4',
         ha="left", va="center")

fig.text(0.80, 0.0439, "First Arrivals at R7FA5", ha="left", va="center")
fig.text(0.80, 0.0318, "Pdiff time: 1079.08s", ha="left", va="center", color="C1")
fig.text(0.80, 0.0197, "PKIKP time: 1195.33s", ha="left", va="center", color="C0")
fig.text(0.80, 0.0075, "PKP time: 1226.52s", ha="left", va="center", color="C2")

fig.savefig("out.png", dpi=100)
